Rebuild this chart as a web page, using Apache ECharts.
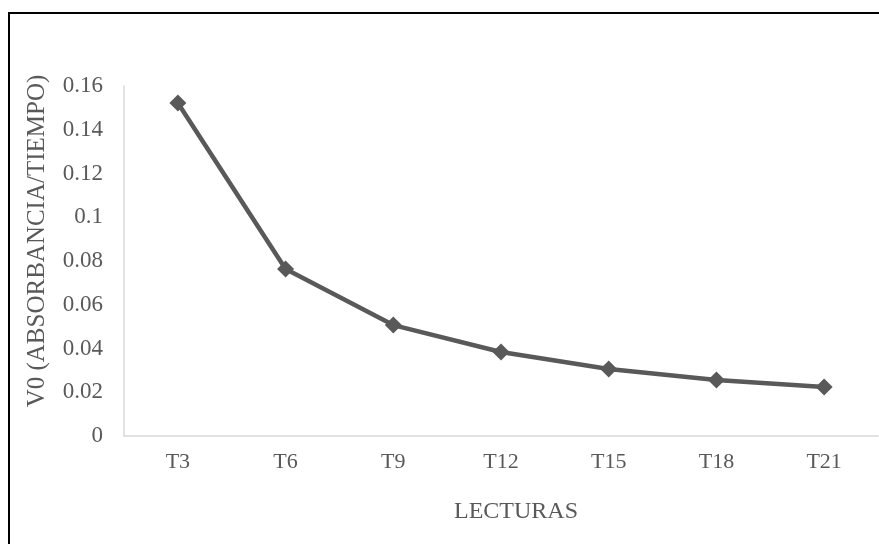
<!DOCTYPE html>
<html><head><meta charset="utf-8">
<script src="https://cdn.jsdelivr.net/npm/echarts@6/dist/echarts.min.js"></script>
<style>html,body{margin:0;padding:0;background:#fff}#c{width:879px;height:544px}</style>
</head><body><div id="c"></div>
<script>
var categories = ['T3','T6','T9','T12','T15','T18','T21'];
var v0Values = [0.1522, 0.0763, 0.0507, 0.0384, 0.0306, 0.0256, 0.0224];
var yAxisTitle = 'V0 (ABSORBANCIA/TIEMPO)';
var xAxisTitle = 'LECTURAS';

var chart = echarts.init(document.getElementById('c'));
var font = '"Liberation Serif", "Times New Roman", serif';
chart.setOption({
  animation: false,
  grid: {left: 124, right: 1, top: 86, bottom: 108},
  graphic: [
    {type: 'line', shape: {x1: 9, y1: 13, x2: 879, y2: 13}, style: {stroke: '#000', lineWidth: 2}},
    {type: 'line', shape: {x1: 9, y1: 12, x2: 9, y2: 544}, style: {stroke: '#000', lineWidth: 2}},
    {type: 'text', x: 37, y: 241, rotation: Math.PI / 2,
     style: {text: yAxisTitle, font: '25px ' + font, fill: '#595959', align: 'center', verticalAlign: 'middle'}},
    {type: 'text', x: 516, y: 512,
     style: {text: xAxisTitle, font: '24px ' + font, fill: '#595959', align: 'center', verticalAlign: 'middle'}}
  ],
  xAxis: {
    type: 'category', data: categories, boundaryGap: true,
    axisLine: {lineStyle: {color: '#d9d9d9', width: 1.5}},
    axisTick: {show: false},
    axisLabel: {fontFamily: font, fontSize: 22, color: '#595959', margin: 15},
    splitLine: {show: false}
  },
  yAxis: {
    type: 'value', min: 0, max: 0.16, interval: 0.02,
    axisLine: {show: true, lineStyle: {color: '#d9d9d9', width: 1.5}},
    axisTick: {show: false},
    splitLine: {show: false},
    axisLabel: {fontFamily: font, fontSize: 23, color: '#595959', margin: 21,
      formatter: function (v) { return String(parseFloat(v.toFixed(2))); }}
  },
  series: [{
    type: 'line', data: v0Values,
    symbol: 'diamond', symbolSize: 17,
    lineStyle: {color: '#595959', width: 4.5},
    itemStyle: {color: '#595959'}
  }]
});
</script></body></html>
